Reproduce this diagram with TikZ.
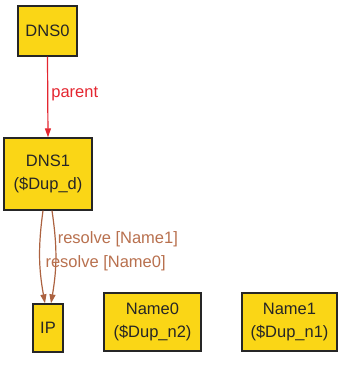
\documentclass[tikz,border=0pt]{standalone}
\usepackage{fontspec}
\setmainfont{Liberation Sans}
\usetikzlibrary{arrows.meta}

\definecolor{boxgold}{RGB}{250,214,22}
\definecolor{parentred}{RGB}{228,38,48}
\definecolor{resolvebrown}{RGB}{172,98,64}
\definecolor{labelbrown}{RGB}{184,112,78}

\begin{document}
\begin{tikzpicture}[x=1pt,y=-1pt,
    box/.style={draw=black!85,line width=1.3pt,fill=boxgold,text=black!85,align=center,inner sep=0pt,
        font=\fontsize{16.5}{23}\selectfont},
    parentedge/.style={draw=parentred,line width=1.2pt,-{Triangle[length=9pt,width=6pt]}},
    resolveedge/.style={draw=resolvebrown,line width=1.2pt,-{Triangle[length=9pt,width=6pt]}},
    elabel/.style={inner sep=0pt,anchor=west,font=\fontsize{16.5}{19}\selectfont}]
                        \useasboundingbox (0,0) rectangle (338,366);

                        \node[box,minimum width=59pt,minimum height=50pt] (dns0) at (47.5,31) {DNS0};
                        \node[box,minimum width=88pt,minimum height=72pt] (dns1) at (48,174) {DNS1\\(\$Dup\_d)};
                        \node[box,minimum width=30pt,minimum height=48pt] (ip) at (48,328) {IP};
                        \node[box,minimum width=97pt,minimum height=58pt] (name0) at (152.5,322) {Name0\\(\$Dup\_n2)};
                        \node[box,minimum width=95pt,minimum height=58pt] (name1) at (289.5,322) {Name1\\(\$Dup\_n1)};

                        \draw[parentedge] (dns0.south) -- node[elabel,pos=0.46,xshift=3pt,text=parentred] {parent} (dns1.north);
                        \draw[resolveedge] ([xshift=4pt]dns1.south) to[bend left=9]
                            node[elabel,pos=0.29,xshift=2pt,text=labelbrown] {resolve [Name1]} ([xshift=3pt]ip.north);
                        \draw[resolveedge] ([xshift=-5pt]dns1.south) to[bend right=9]
                            node[elabel,pos=0.57,xshift=5pt,text=labelbrown] {resolve [Name0]} ([xshift=-3pt]ip.north);
                    \end{tikzpicture}
\end{document}
